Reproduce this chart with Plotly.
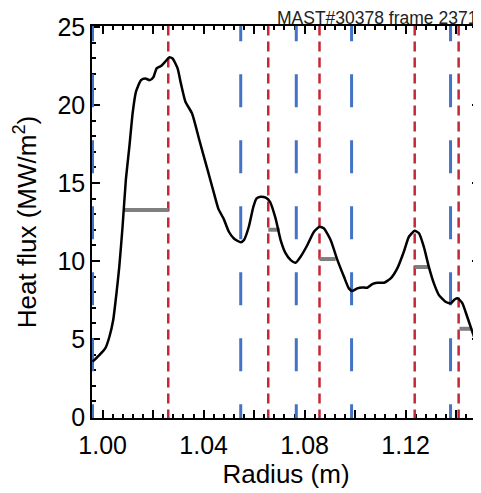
import plotly.graph_objects as go

# Heat-flux profile
radius = [0.9960, 0.9987, 1.0011, 1.0027, 1.0042, 1.0055, 1.0066, 1.0079, 1.0092, 1.0106,
          1.0119, 1.0132, 1.0152, 1.0169, 1.0187, 1.0201, 1.0214, 1.0231, 1.0248, 1.0264,
          1.0277, 1.0297, 1.0310, 1.0328, 1.0354, 1.0383, 1.0416, 1.0442, 1.0459, 1.0480,
          1.0500, 1.0520, 1.0547, 1.0560, 1.0579, 1.0597, 1.0610, 1.0626, 1.0646, 1.0663,
          1.0685, 1.0705, 1.0725, 1.0745, 1.0764, 1.0784, 1.0811, 1.0837, 1.0859, 1.0876,
          1.0903, 1.0930, 1.0956, 1.0975, 1.0989, 1.1009, 1.1028, 1.1048, 1.1068, 1.1088,
          1.1114, 1.1141, 1.1167, 1.1193, 1.1213, 1.1236, 1.1253, 1.1272, 1.1292, 1.1312,
          1.1332, 1.1358, 1.1378, 1.1394, 1.1407, 1.1425, 1.1444, 1.1471, 1.1497]
heat_flux = [3.55, 3.97, 4.42, 5.15, 6.22, 7.95, 9.63, 12.20, 15.19, 17.33,
             19.49, 20.85, 21.60, 21.71, 21.60, 21.78, 22.35, 22.50, 22.78, 23.06,
             22.99, 22.35, 21.39, 20.21, 19.47, 17.76, 15.83, 14.29, 13.33, 12.69,
             11.88, 11.45, 11.20, 11.35, 12.20, 13.48, 14.02, 14.12, 14.06, 13.80,
             12.74, 11.35, 10.49, 10.06, 9.89, 10.28, 11.03, 11.88, 12.20, 12.10,
             11.35, 10.06, 8.99, 8.25, 8.08, 8.25, 8.31, 8.29, 8.53, 8.61,
             8.61, 8.89, 9.53, 10.60, 11.56, 11.94, 11.78, 10.92, 9.63, 8.57,
             7.82, 7.39, 7.29, 7.54, 7.61, 7.29, 6.43, 5.15, 3.87]

blue_r = [0.9960, 1.0547, 1.0767, 1.0986, 1.1378]
red_r = [1.0260, 1.0656, 1.0859, 1.1236, 1.1410]

gray_r0 = [1.0083, 1.0656, 1.0859, 1.1236, 1.1413]
gray_r1 = [1.0261, 1.0701, 1.0923, 1.1291, 1.1460]
gray_q = [13.27, 12.01, 10.13, 9.62, 5.66]

x_tickvals = [1.00, 1.02, 1.04, 1.06, 1.08, 1.10, 1.12, 1.14]
x_ticktext = ["1.00", "", "1.04", "", "1.08", "", "1.12", ""]
y_tickvals = [0, 5, 10, 15, 20, 25]
y_ticktext = ["0", "5", "10", "15", "20", "25"]

title_text = "MAST#30378 frame 2371"
x_title = "Radius (m)"
y_title = "Heat flux (MW/m<sup>2</sup>)"

FONT = "Liberation Sans, Arial, sans-serif"
BLUE = "#4472C4"
RED = "#C3283A"
GRAY = "#7F7F7F"

fig = go.Figure()

for xb in blue_r:
    fig.add_trace(go.Scatter(x=[xb, xb], y=[26.2, -1.5], mode="lines",
                             line=dict(color=BLUE, width=3, dash="33px,33px"),
                             showlegend=False, hoverinfo="skip"))
for xr in red_r:
    fig.add_trace(go.Scatter(x=[xr, xr], y=[25.1, -1.5], mode="lines",
                             line=dict(color=RED, width=2.5, dash="10px,6px"),
                             showlegend=False, hoverinfo="skip"))
for a, b, q in zip(gray_r0, gray_r1, gray_q):
    fig.add_trace(go.Scatter(x=[a, b], y=[q, q], mode="lines",
                             line=dict(color=GRAY, width=4),
                             showlegend=False, hoverinfo="skip"))

fig.add_trace(go.Scatter(x=radius, y=heat_flux, mode="lines",
                         line=dict(color="black", width=2.5, shape="spline", smoothing=0.5),
                         showlegend=False))

axis_common = dict(showline=True, linecolor="black", linewidth=1.5, mirror="allticks",
                   ticks="inside", ticklen=8, tickwidth=1.5, tickcolor="black",
                   showgrid=False, zeroline=False, layer="below traces",
                   tickfont=dict(family=FONT, size=25, color="black"))

fig.update_xaxes(range=[0.99580, 1.14946], tickvals=x_tickvals, ticktext=x_ticktext,
                 ticklabelstandoff=4,
                 minor=dict(dtick=0.004, tick0=1.0, ticks="inside", ticklen=4,
                            tickwidth=1.5, tickcolor="black", showgrid=False),
                 title=dict(text=x_title, font=dict(family=FONT, size=26, color="black"),
                            standoff=4),
                 **axis_common)
fig.update_yaxes(range=[-0.06, 25.07], tickvals=y_tickvals, ticktext=y_ticktext,
                 minor=dict(dtick=1, tick0=0, ticks="inside", ticklen=4,
                            tickwidth=1.5, tickcolor="black", showgrid=False),
                 title=dict(text=y_title, font=dict(family=FONT, size=26, color="black"),
                            standoff=13),
                 **axis_common)

fig.add_annotation(text=title_text, xref="paper", yref="paper", x=1.0, y=1.0,
                   xanchor="right", yanchor="bottom", showarrow=False, yshift=-3,
                   xshift=-2, borderpad=0,
                   font=dict(family=FONT, size=17.5, color="#222222"))

# the page body adds an 8 px margin, so the figure is sized to fill the rest of the window
fig.update_layout(width=473, height=485,
                  margin=dict(l=84, r=1, t=18, b=75, autoexpand=False),
                  paper_bgcolor="white", plot_bgcolor="white",
                  font=dict(family=FONT, color="black"))

fig.write_html("out.html")
